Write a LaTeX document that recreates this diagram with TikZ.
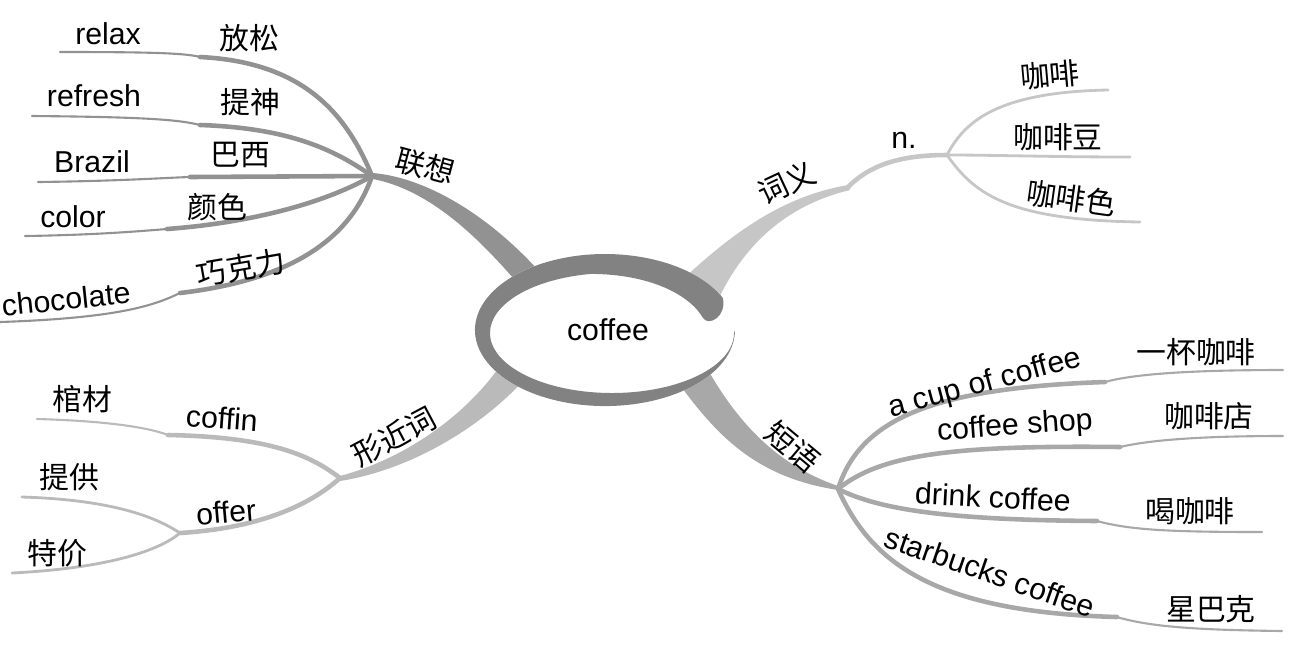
\documentclass[tikz,border=0pt]{standalone}
\usepackage{fontspec}
\setmainfont{Liberation Sans}
\newfontfamily\cjk{Noto Sans CJK SC}
\definecolor{ringgray}{HTML}{828282}
\definecolor{assocgray}{HTML}{929292}
\definecolor{meangray}{HTML}{C6C6C6}
\definecolor{formgray}{HTML}{BABABA}
\definecolor{phrasegray}{HTML}{A8A8A8}

\begin{document}
\begin{tikzpicture}[
    x=0.02cm, y=-0.02cm,
    en/.style={font=\fontsize{17.2}{20}\selectfont, inner sep=0pt},
    zh/.style={font=\cjk\fontsize{17}{20}\selectfont, inner sep=0pt},
    twig/.style={line width=2.6pt, line cap=round},
    leaf/.style={line width=1.2pt, line cap=round},
    sprig/.style={line width=1.6pt, line cap=round}
]
\useasboundingbox (0,0) rectangle (1298,654);

% hubs and ends
\coordinate (lxhub) at (372,176);
\coordinate (cytip) at (848,187);
\coordinate (nhub) at (947,155);
\coordinate (xjhub) at (340,478);
\coordinate (offerhub) at (180,533);
\coordinate (dyhub) at (838,489);

\coordinate (relaxstep) at (200,57);     \coordinate (relaxend) at (60,52);
\coordinate (refreshstep) at (200,125);  \coordinate (refreshend) at (32,116);
\coordinate (brazilstep) at (190,177);   \coordinate (brazilend) at (38,182);
\coordinate (colorstep) at (167,229);    \coordinate (colorend) at (25,236);
\coordinate (chocstep) at (180,293);     \coordinate (chocend) at (0,322);

\coordinate (kafeiend) at (1108,90);
\coordinate (kafeidouend) at (1130,157);
\coordinate (kafeiseend) at (1140,222);

\coordinate (coffinstep) at (168,435);   \coordinate (coffinend) at (37,419);
\coordinate (tigongend) at (22,497);
\coordinate (tejiaend) at (12,573);

\coordinate (cupstep) at (1105,382);     \coordinate (cupend) at (1283,370);
\coordinate (shopstep) at (1120,447);    \coordinate (shopend) at (1283,436);
\coordinate (drinkstep) at (1097,521);   \coordinate (drinkend) at (1262,532);
\coordinate (starstep) at (1117,617);    \coordinate (starend) at (1282,631);

% main branches
\fill[assocgray] (373,173) .. controls (430,178) and (495,220) .. (545,278)
  -- (525,292) .. controls (480,238) and (430,190) .. (373,179) -- cycle;
\fill[meangray] (680,282) .. controls (740,225) and (790,195) .. (848,185)
  -- (850,190) .. controls (800,202) and (750,232) .. (718,300) -- cycle;
\fill[formgray] (340,476) .. controls (400,460) and (462,420) .. (500,366)
  -- (524,380) .. controls (480,428) and (410,470) .. (340,481) -- cycle;
\fill[phrasegray] (680,385) .. controls (720,440) and (760,478) .. (838,490)
  -- (838,486) .. controls (792,470) and (748,440) .. (708,370) -- cycle;

% left top
\draw[twig, assocgray] (lxhub) .. controls (345,110) and (300,62) .. (relaxstep);
\draw[leaf, assocgray] (relaxstep) .. controls (185,53) and (150,52) .. (relaxend);
\draw[twig, assocgray] (lxhub) .. controls (335,150) and (290,128) .. (refreshstep);
\draw[leaf, assocgray] (refreshstep) .. controls (180,120) and (150,117) .. (refreshend);
\draw[twig, assocgray] (lxhub) -- (brazilstep);
\draw[leaf, assocgray] (brazilstep) .. controls (160,178) and (120,181) .. (brazilend);
\draw[twig, assocgray] (lxhub) .. controls (330,200) and (260,222) .. (colorstep);
\draw[leaf, assocgray] (colorstep) .. controls (130,232) and (90,235) .. (colorend);
\draw[twig, assocgray] (lxhub) .. controls (350,240) and (290,280) .. (chocstep);
\draw[leaf, assocgray] (chocstep) .. controls (155,305) and (120,318) .. (chocend);

% right top
\draw[sprig, meangray, line width=2.6pt] (cytip) .. controls (870,165) and (900,155) .. (nhub);
\draw[sprig, meangray] (nhub) .. controls (965,120) and (1000,92) .. (kafeiend);
\draw[sprig, meangray] (nhub) .. controls (1000,155) and (1050,157) .. (kafeidouend);
\draw[sprig, meangray] (nhub) .. controls (975,195) and (1010,220) .. (kafeiseend);

% left bottom
\draw[twig, formgray] (xjhub) .. controls (310,455) and (270,437) .. (coffinstep);
\draw[leaf, formgray] (coffinstep) .. controls (150,428) and (110,421) .. (coffinend);
\draw[twig, formgray] (xjhub) .. controls (310,505) and (260,528) .. (offerhub);
\draw[sprig, formgray] (offerhub) .. controls (160,520) and (120,500) .. (tigongend);
\draw[sprig, formgray] (offerhub) .. controls (160,550) and (110,568) .. (tejiaend);

% right bottom
\draw[twig, phrasegray] (dyhub) .. controls (860,420) and (930,388) .. (cupstep);
\draw[leaf, phrasegray] (cupstep) .. controls (1130,375) and (1180,370) .. (cupend);
\draw[twig, phrasegray] (dyhub) .. controls (880,455) and (950,445) .. (shopstep);
\draw[leaf, phrasegray] (shopstep) .. controls (1150,440) and (1200,436) .. (shopend);
\draw[twig, phrasegray] (dyhub) .. controls (880,510) and (950,520) .. (drinkstep);
\draw[leaf, phrasegray] (drinkstep) .. controls (1130,530) and (1170,532) .. (drinkend);
\draw[twig, phrasegray] (dyhub) .. controls (870,560) and (930,612) .. (starstep);
\draw[leaf, phrasegray] (starstep) .. controls (1150,627) and (1200,630) .. (starend);

% centre
\fill[white] (605,330) ellipse [x radius=130, y radius=76];
\fill[ringgray] (722.8,297.9) arc[start angle=-25, end angle=-360, x radius=130, y radius=76]
  -- (734,333) arc[start angle=-360, end angle=-100, x radius=122, y radius=60]
  .. controls (650,274) and (690,295) .. (703,318)
  .. controls (709,327) and (727,316) .. (722.8,297.9) -- cycle;
\node[en] (coffee) at (608,330) {coffee};

\node[en, anchor=base] (relax) at (108,44) {relax};
\node[zh] (fangsong) at (249,38) {放松};
\node[en, anchor=base] (refresh) at (94,106) {refresh};
\node[zh] (tishen) at (250,102) {提神};
\node[en, anchor=base] (brazil) at (92,172) {Brazil};
\node[zh] (baxi) at (240,155) {巴西};
\node[en, anchor=base] (color) at (73,227) {color};
\node[zh] (yanse) at (217,207) {颜色};
\node[en, rotate=6] (chocolate) at (66,299) {chocolate};
\node[zh, rotate=10] (qiaokeli) at (241,268) {巧克力};
\node[zh, rotate=-15] (lianxiang) at (425,166) {联想};

\node[zh, rotate=25] (ciyi) at (787,183) {词义};
\node[en, anchor=base] (noun) at (904,148) {n.};
\node[zh, rotate=5] (kafei) at (1050,75) {咖啡};
\node[zh] (kafeidou) at (1058,137) {咖啡豆};
\node[zh, rotate=-8] (kafeise) at (1071,198) {咖啡色};

\node[zh, rotate=28] (xingjinci) at (394,437) {形近词};
\node[en, rotate=-4] (coffin) at (222,418) {coffin};
\node[zh] (guancai) at (82,399) {棺材};
\node[en, rotate=5] (offer) at (226,512) {offer};
\node[zh] (tigong) at (69,477) {提供};
\node[zh] (tejia) at (57,553) {特价};

\node[zh, rotate=-40] (duanyu) at (793,447) {短语};
\node[en, rotate=15] (cup) at (985,384) {a cup of coffee};
\node[zh] (yibei) at (1196,352) {一杯咖啡};
\node[en, rotate=4] (shop) at (1015,427) {coffee shop};
\node[zh] (kafeidian) at (1209,416) {咖啡店};
\node[en, rotate=-3] (drink) at (993,497) {drink coffee};
\node[zh] (hekafei) at (1190,511) {喝咖啡};
\node[en, rotate=-19] (starbucks) at (990,572) {starbucks coffee};
\node[zh] (xingbake) at (1211,609) {星巴克};
\end{tikzpicture}
\end{document}
